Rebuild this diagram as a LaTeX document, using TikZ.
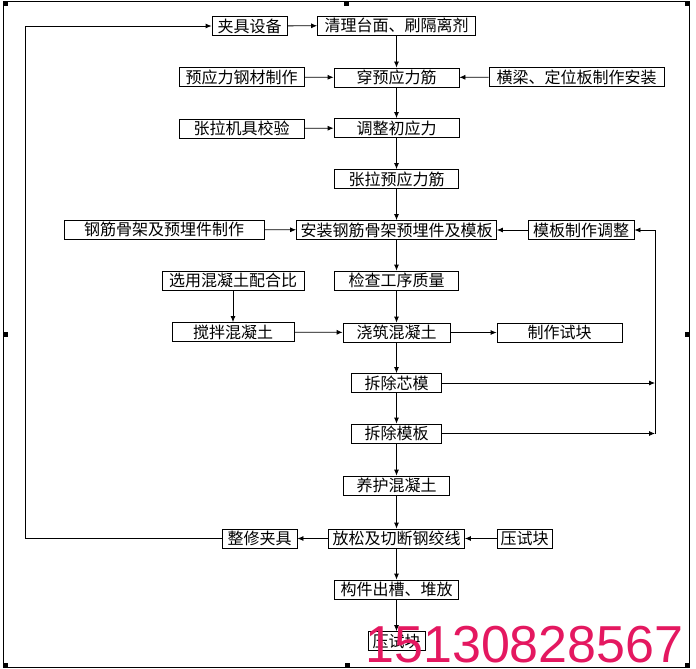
\documentclass[tikz,border=0pt]{standalone}
\usepackage{fontspec}
\setmainfont{Liberation Sans}
\newfontfamily\cjk{Noto Sans CJK SC}
\usetikzlibrary{arrows.meta}
\definecolor{wm}{RGB}{228,24,96}

\begin{document}
\begin{tikzpicture}[x=1pt, y=-1pt, line width=0.8pt,
    box/.style={draw, fill=white, inner sep=1pt, minimum height=19pt, font=\cjk\fontsize{16}{18}\selectfont},
    arr/.style={-{Latex[length=6pt,width=5pt]}}]
    \useasboundingbox (0,0) rectangle (696,669);

    % 外枠
    \draw (3.5,1.5) rectangle (689,667.5);
    \foreach \x/\y in {5/4, 346/4, 687.5/4, 5/334.5, 687.5/334.5, 5/665, 347/665, 687.5/665}
        \fill (\x-2.5,\y-2.5) rectangle ++(5,5);

    % 工序
    \node[box, minimum width=75pt] (A) at (249.5, 26) {夹具设备};
    \node[box, minimum width=158pt] (B) at (396.5, 25.5) {清理台面、刷隔离剂};
    \node[box, minimum width=125pt] (C) at (241.5, 77) {预应力钢材制作};
    \node[box, minimum width=125pt] (D) at (396.5, 77.5) {穿预应力筋};
    \node[box, minimum width=175pt] (E) at (576.5, 77) {横梁、定位板制作安装};
    \node[box, minimum width=125pt] (F) at (241.5, 128.5) {张拉机具校验};
    \node[box, minimum width=125pt] (G) at (396.5, 128) {调整初应力};
    \node[box, minimum width=124pt] (H) at (396.5, 179) {张拉预应力筋};
    \node[box, minimum width=200pt] (I) at (164, 229.5) {钢筋骨架及预埋件制作};
    \node[box, minimum width=200pt] (J) at (396.5, 230) {安装钢筋骨架预埋件及模板};
    \node[box, minimum width=106pt] (K) at (581, 230) {模板制作调整};
    \node[box, minimum width=142pt] (L) at (233, 280.5) {选用混凝土配合比};
    \node[box, minimum width=124pt] (M) at (396.5, 280.5) {检查工序质量};
    \node[box, minimum width=122pt] (N) at (233, 332) {搅拌混凝土};
    \node[box, minimum width=107pt] (O) at (396.5, 332.5) {浇筑混凝土};
    \node[box, minimum width=125pt] (P) at (559.5, 332.5) {制作试块};
    \node[box, minimum width=90pt] (Q) at (396.5, 383) {拆除芯模};
    \node[box, minimum width=90pt] (R) at (396.5, 433.5) {拆除模板};
    \node[box, minimum width=106pt] (S) at (396.5, 485.5) {养护混凝土};
    \node[box, minimum width=136pt] (T) at (396.5, 538.5) {放松及切断钢绞线};
    \node[box, minimum width=75pt] (U) at (259.5, 538.5) {整修夹具};
    \node[box, minimum width=55pt] (V) at (524.5, 538.5) {压试块};
    \node[box, minimum width=124pt] (W) at (396.5, 589.5) {构件出槽、堆放};
    \node[box, minimum width=57pt] (X) at (396.5, 641) {压试块};

    \coordinate (Y1) at (25.7, 538.5);
    \coordinate (Z1) at (655, 383);
    \coordinate (Z2) at (655, 433.5);

    % 主线
    \draw[arr] (A) -- (B);
    \draw[arr] (B) -- (D);
    \draw[arr] (D) -- (G);
    \draw[arr] (G) -- (H);
    \draw[arr] (H) -- (J);
    \draw[arr] (J) -- (M);
    \draw[arr] (M) -- (O);
    \draw[arr] (O) -- (Q);
    \draw[arr] (Q) -- (R);
    \draw[arr] (R) -- (S);
    \draw[arr] (S) -- (T);
    \draw[arr] (T) -- (W);
    \draw[arr] (W) -- (X);

    % 支线
    \draw[arr] (C) -- (D);
    \draw[arr] (E) -- (D);
    \draw[arr] (F) -- (G);
    \draw[arr] (I) -- (J);
    \draw[arr] (K) -- (J);
    \draw[arr] (L) -- (N);
    \draw[arr] (N) -- (O);
    \draw[arr] (O) -- (P);
    \draw[arr] (T) -- (U);
    \draw[arr] (V) -- (T);

    % 回路
    \draw (U.west) -- (Y1);
    \draw[arr] (Y1) |- (A.west);
    \draw[arr] (Q.east) -- (Z1);
    \draw[arr] (R.east) -- (Z2);
    \draw[arr] (Z2) |- (K.east);

    % 水印
    \node[anchor=base west, inner sep=0pt, text=wm, font=\fontsize{52}{52}\selectfont] (WM) at (365, 662) {15130828567};

\end{tikzpicture}
\end{document}
